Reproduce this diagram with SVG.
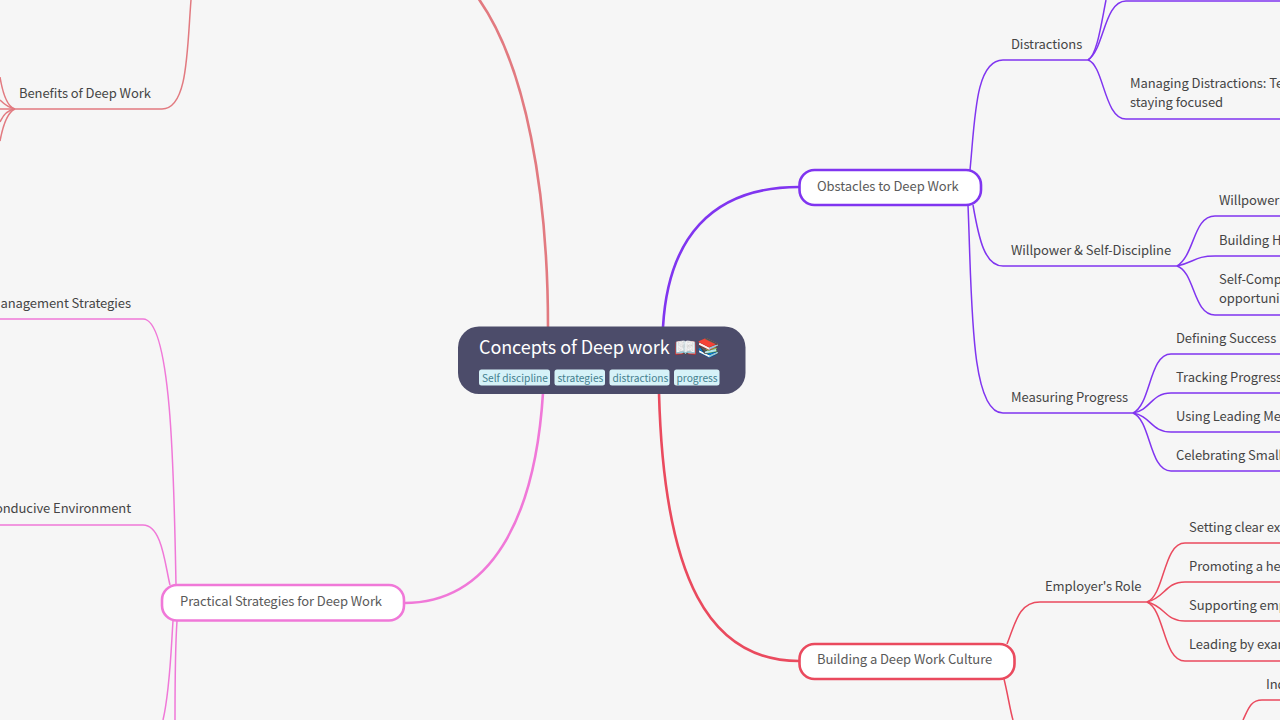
<svg xmlns="http://www.w3.org/2000/svg" width="1280" height="720" viewBox="0 0 1280 720">
<style>
text{font-family:"Noto Sans CJK SC","Noto Sans",sans-serif;font-size:13px;letter-spacing:-.07px;fill:#454545}
.c{fill:none;stroke-width:1.5}
.m{fill:none;stroke-width:2.6}
.n{fill:#fff;stroke-width:2.6}
.t{fill:#d6f2f8;stroke:none}
text.tt{font-size:10.200px;letter-spacing:0;fill:#44808f}
text.m1{fill:#5a5a5a}
.pu{stroke:#8035f0}.re{stroke:#ea4a5e}.sa{stroke:#e27a80}.pk{stroke:#f078d8}
</style>
<rect width="1280" height="720" fill="#f6f6f6"/>
<g id="connectors">
<path class="m sa" d="M548 327C548 200 528 60 472 -10"/>
<path class="m pu" d="M663 327C668 240 710 187 799 187"/>
<path class="m pk" d="M543 393C535 520 490 603 404 603"/>
<path class="m re" d="M659 393C664 580 710 661 799 661"/>
<path class="c pu" d="M970 170C975 120 975 60 1003 60H1088"/>
<path class="c pu" d="M973 205C979 240 985 266 1003 266H1177"/>
<path class="c pu" d="M968 205C972 300 970 413 1003 413H1133"/>
<path class="c pu" d="M1088 60C1097 55 1101 25 1106 0"/>
<path class="c pu" d="M1088 60C1104 50 1104 1 1126 1H1280"/>
<path class="c pu" d="M1088 60C1104 65 1104 119 1126 119H1280"/>
<path class="c pu" d="M1177 266C1195 255 1193 216 1215 216H1280"/>
<path class="c pu" d="M1177 266C1195 262 1195 256 1215 256H1280"/>
<path class="c pu" d="M1177 266C1195 272 1193 315 1215 315H1280"/>
<path class="c pu" d="M1133 413C1151 405 1149 354 1171 354H1280"/>
<path class="c pu" d="M1133 413C1151 410 1151 393 1171 393H1280"/>
<path class="c pu" d="M1133 413C1151 416 1151 432 1171 432H1280"/>
<path class="c pu" d="M1133 413C1151 420 1149 471 1171 471H1280"/>
<path class="c re" d="M1007 644C1015 625 1018 602 1040 602H1147"/>
<path class="c re" d="M1004 679C1008 695 1010 710 1013 720"/>
<path class="c re" d="M1147 602C1165 595 1163 543 1185 543H1280"/>
<path class="c re" d="M1147 602C1165 598 1165 582 1185 582H1280"/>
<path class="c re" d="M1147 602C1165 606 1165 621 1185 621H1280"/>
<path class="c re" d="M1147 602C1165 610 1163 661 1185 661H1280"/>
<path class="c re" d="M1243 720C1248 710 1250 700 1262 700H1280"/>
<path class="c sa" d="M191 0C187 50 188 109 162 109H15"/>
<path class="c sa" d="M15 109C8 107 3 95 0 77"/>
<path class="c sa" d="M15 109C10 108 5 105 0 100"/>
<path class="c sa" d="M15 109H0"/>
<path class="c sa" d="M15 109C8 110 3 115 0 122"/>
<path class="c sa" d="M15 109C8 112 3 125 0 141"/>
<path class="c pk" d="M176 585C174 480 172 319 143 319H0"/>
<path class="c pk" d="M170 585C165 565 162 525 143 525H0"/>
<path class="c pk" d="M173 621C171 650 170 690 163 720"/>
<path class="c pk" d="M177 621C175 650 175 690 175 720"/>
</g>
<g id="root">
<rect x="458" y="326.500" width="287.500" height="67.500" rx="21" fill="#4c4c6a"/>
<text x="479" y="354" style="font-size:18px;letter-spacing:-.09px;fill:#fff">Concepts of Deep work <tspan style="font-size:18.500px;letter-spacing:0">📖📚</tspan></text>
<rect class="t" x="479" y="369.500" width="71" height="16" rx="2.500"/><text class="tt" x="482" y="382">Self discipline</text>
<rect class="t" x="554.500" y="369.500" width="50.500" height="16" rx="2.500"/><text class="tt" x="557.500" y="382">strategies</text>
<rect class="t" x="609.500" y="369.500" width="60" height="16" rx="2.500"/><text class="tt" x="612.500" y="382">distractions</text>
<rect class="t" x="674" y="369.500" width="45.500" height="16" rx="2.500"/><text class="tt" x="676.500" y="382">progress</text>
</g>
<g id="n-obstacles"><rect class="n pu" x="799.500" y="170" width="181.500" height="35" rx="15"/><text class="m1" x="817" y="190.500">Obstacles to Deep Work</text></g>
<g id="n-culture"><rect class="n re" x="799.500" y="644" width="215" height="35" rx="15"/><text class="m1" x="817" y="664">Building a Deep Work Culture</text></g>
<g id="n-practical"><rect class="n pk" x="162" y="585" width="242" height="35.500" rx="15"/><text class="m1" x="180" y="605.500">Practical Strategies for Deep Work</text></g>
<g id="n-distractions"><text x="1011" y="48.500">Distractions</text></g>
<g id="n-managing"><text x="1130" y="88">Managing Distractions: Te</text><text x="1130" y="106.500">staying focused</text></g>
<g id="n-willpower"><text x="1011" y="254.500">Willpower &amp; Self-Discipline</text></g>
<g id="n-w1"><text x="1219" y="205">Willpower</text></g>
<g id="n-w2"><text x="1219" y="244.500">Building H</text></g>
<g id="n-w3"><text x="1219" y="283.500">Self-Comp</text><text x="1219" y="302.500">opportuni</text></g>
<g id="n-measuring"><text x="1011" y="401.500">Measuring Progress</text></g>
<g id="n-m1"><text x="1176" y="342.500">Defining Success</text></g>
<g id="n-m2"><text x="1176" y="381.500">Tracking Progress</text></g>
<g id="n-m3"><text x="1176" y="420.500">Using Leading Me</text></g>
<g id="n-m4"><text x="1176" y="460">Celebrating Small</text></g>
<g id="n-employer"><text x="1045" y="590.500">Employer's Role</text></g>
<g id="n-e1"><text x="1189" y="531.500">Setting clear ex</text></g>
<g id="n-e2"><text x="1189" y="570.500">Promoting a he</text></g>
<g id="n-e3"><text x="1189" y="609.500">Supporting emp</text></g>
<g id="n-e4"><text x="1189" y="649">Leading by exam</text></g>
<g id="n-ind"><text x="1266" y="688.500">Ind</text></g>
<g id="n-benefits"><text x="19" y="97.500">Benefits of Deep Work</text></g>
<g id="n-time"><text x="131" y="307.500" text-anchor="end">anagement Strategies</text></g>
<g id="n-env"><text x="131" y="513" text-anchor="end">onducive Environment</text></g>
</svg>
